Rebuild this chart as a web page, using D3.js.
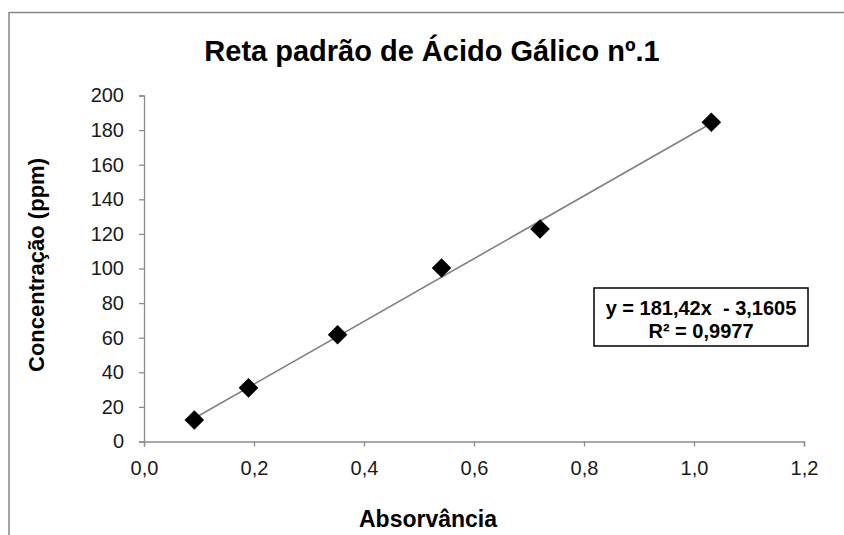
<!DOCTYPE html>
<html><head><meta charset="utf-8">
<script src="https://cdn.jsdelivr.net/npm/d3@7"></script>
<style>body{margin:0;background:#fff;} svg{display:block;font-family:"Liberation Sans",Arial,sans-serif;}</style>
</head><body>
<svg id="c" width="844" height="535"></svg>
<script>
const absorbance = [0.0915, 0.19, 0.352, 0.541, 0.72, 1.0315];
const concentration = [12.4, 31, 61.7, 100.3, 122.8, 184.5];
const xTicks = [0, 0.2, 0.4, 0.6, 0.8, 1.0, 1.2];
const yTicks = [0, 20, 40, 60, 80, 100, 120, 140, 160, 180, 200];
const slope = 181.42, intercept = -3.1605;
const titleText = "Reta padrão de Ácido Gálico nº.1";
const xTitle = "Absorvância", yTitle = "Concentração (ppm)";
const eqLines = ["y = 181,42x  - 3,1605", "R² = 0,9977"];

const svg = d3.select("#c");
const fmtComma = d => d3.format(".1f")(d).replace(".", ",");

// outer chart border (extends beyond window)
svg.append("rect").attr("x", 9).attr("y", 12.5).attr("width", 900).attr("height", 600)
  .attr("fill", "none").attr("stroke", "#868686").attr("stroke-width", 1.5);

const x = d3.scaleLinear().domain([0, 1.2]).range([144, 804]);
const y = d3.scaleLinear().domain([0, 200]).range([441.5, 95.5]);

const axColor = "#8c8c8c";
const gx = svg.append("g").attr("transform", `translate(0,${y(0)})`)
  .call(d3.axisBottom(x).tickValues(xTicks).tickFormat(fmtComma).tickSize(5).tickPadding(14));
const gy = svg.append("g").attr("transform", `translate(${x(0)},0)`)
  .call(d3.axisLeft(y).tickValues(yTicks).tickFormat(d => d).tickSize(5).tickPadding(15));
[gx, gy].forEach(g => {
  g.select(".domain").attr("stroke", axColor).attr("stroke-width", 1.3);
  g.selectAll(".tick line").attr("stroke", axColor).attr("stroke-width", 1.3);
  g.selectAll(".tick text").attr("fill", "#1a1a1a").style("font-size", "20px")
   .style("font-family", '"Liberation Sans",Arial,sans-serif');
});

// trendline
const x0 = d3.min(absorbance), x1 = d3.max(absorbance);
svg.append("line").attr("x1", x(x0)).attr("y1", y(slope * x0 + intercept))
  .attr("x2", x(x1)).attr("y2", y(slope * x1 + intercept))
  .attr("stroke", "#808080").attr("stroke-width", 1.6);

// markers (diamonds)
const r = 9.8;
svg.append("g").selectAll("path").data(absorbance.map((a, i) => [a, concentration[i]]))
  .join("path")
  .attr("d", d => { const cx = x(d[0]), cy = y(d[1]);
    return `M${cx},${cy - r}L${cx + r},${cy}L${cx},${cy + r}L${cx - r},${cy}Z`; })
  .attr("fill", "#000");

// title
svg.append("text").attr("x", 432).attr("y", 61).attr("text-anchor", "middle")
  .style("font-size", "29px").style("font-weight", "bold").attr("fill", "#000").text(titleText);

// axis titles
svg.append("text").attr("x", 428).attr("y", 527).attr("text-anchor", "middle")
  .style("font-size", "23px").style("font-weight", "bold").attr("fill", "#000").text(xTitle);
svg.append("text").attr("transform", "translate(44,265) rotate(-90)").attr("text-anchor", "middle")
  .style("font-size", "22px").style("font-weight", "bold").attr("fill", "#000").text(yTitle);

// equation box
svg.append("rect").attr("x", 594).attr("y", 288).attr("width", 214).attr("height", 58)
  .attr("fill", "#fff").attr("stroke", "#000").attr("stroke-width", 1.5);
svg.append("g").selectAll("text").data(eqLines).join("text")
  .attr("x", 701).attr("y", (d, i) => 315 + i * 23).attr("text-anchor", "middle")
  .style("font-size", "20px").style("font-weight", "bold").style("white-space", "pre")
  .attr("xml:space", "preserve").attr("fill", "#000").text(d => d);
</script>
</body></html>
